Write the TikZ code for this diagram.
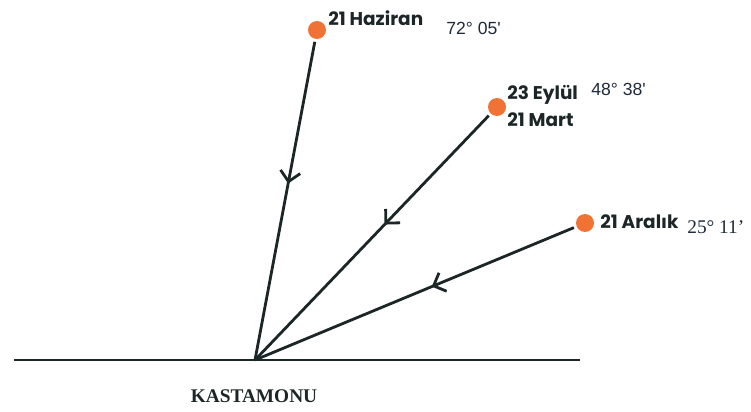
\documentclass[tikz,border=0pt]{standalone}
\usepackage{fontspec}
\setmainfont{Liberation Serif}
\newfontfamily\gothic{Poppins}
\newfontfamily\arial{Liberation Sans}
\definecolor{sun}{HTML}{F07235}
\definecolor{ray}{HTML}{1C2626}
\definecolor{angtxt}{HTML}{1E2A3A}
\usetikzlibrary{arrows.meta}
\usetikzlibrary{decorations.markings}

\tikzset{
  sundot/.style={circle, fill=sun, minimum size=0.36cm, inner sep=0pt},
  sunray/.style={draw=ray, line width=1.6pt, shorten <=1.5pt,
    postaction={decorate, decoration={markings,
      mark=at position 0.45 with {\arrow{Straight Barb[length=0.2cm, width=0.4cm]}}}}},
  daylabel/.style={font=\gothic\bfseries\fontsize{10.5}{12}\selectfont, text=ray, inner sep=0pt, anchor=west},
  anglabel/.style={font=\arial\fontsize{10}{12}\selectfont, text=angtxt, inner sep=0pt, anchor=west}
}

\begin{document}
\begin{tikzpicture}[x=0.02cm, y=-0.02cm]
	\useasboundingbox (0,0) rectangle (751,412);
	% horizon
	\coordinate (O) at (255,360);
	\coordinate (hl) at (14,360);
	\coordinate (hr) at (580,360);
	\draw[ray, line width=1.6pt] (hl) -- (hr);
	% sun positions
	\foreach \name/\x/\y in {haz/317/30, eyl/497/107, ara/585/223}
	\node[sundot] (\name) at (\x,\y) {};
	\foreach \name in {haz, eyl, ara}
	\draw[sunray] (\name) -- (O);
	% labels
	\node[daylabel] (hazt) at (328,18) {21 Haziran};
	\node[anglabel] (haza) at (446,28) {72° 05'};
	\node[daylabel] (eylt) at (507,95) {23 Eylül};
	\node[daylabel] (mart) at (507,120) {21 Mart};
	\node[anglabel] (eyla) at (591,89) {48° 38'};
	\node[daylabel] (arat) at (600,222) {21 Aralık};
	\node[anglabel, font=\fontsize{11}{13}\selectfont] (araa) at (687,227) {25° 11'};
	\node[font=\bfseries\fontsize{11}{13}\selectfont, text=ray] (city) at (254,396) {KASTAMONU};
\end{tikzpicture}
\end{document}
